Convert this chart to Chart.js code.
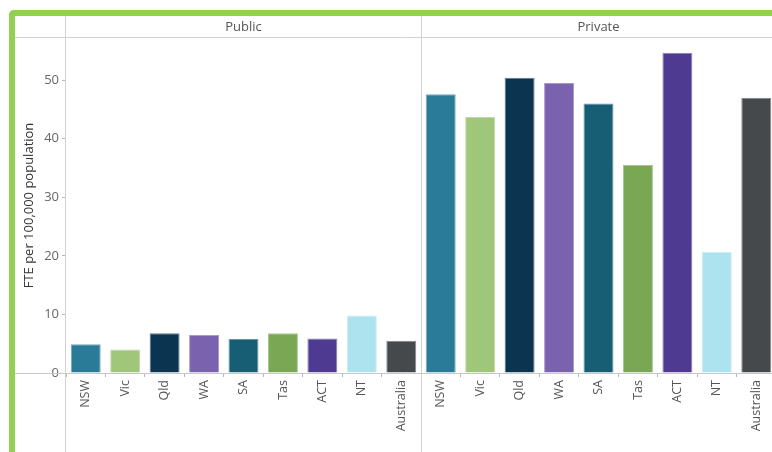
<!DOCTYPE html>
<html>
<head>
<meta charset="utf-8">
<script src="https://cdn.jsdelivr.net/npm/chart.js@4"></script>
<style>
  html, body { margin: 0; padding: 0; background: #fff; overflow: hidden; width: 772px; height: 452px; }
  #wrap { position: relative; width: 800px; height: 452px; }
  #frame { position: absolute; left: 9px; top: 10px; width: 900px; height: 600px;
           border-left: 6px solid #92d050; border-top: 6px solid #92d050;
           border-top-left-radius: 5px; box-sizing: border-box; pointer-events: none; }
  canvas { position: absolute; left: 0; top: 0; }
</style>
</head>
<body>
<div id="wrap">
  <canvas id="c" width="800" height="452"></canvas>
  <div id="frame"></div>
</div>
<script>
const categories = ["NSW", "Vic", "Qld", "WA", "SA", "Tas", "ACT", "NT", "Australia"];
const sectors = ["Public", "Private"];
const publicValues = [4.9, 4.0, 6.8, 6.5, 5.8, 6.8, 5.9, 9.8, 5.5];
const privateValues = [47.6, 43.7, 50.4, 49.5, 46.0, 35.5, 54.7, 20.7, 47.0];
const yTicks = [0, 10, 20, 30, 40, 50];
const yTitle = "FTE per 100,000 population";
const categoryColors = ["#297b97", "#a0c67a", "#0b3450", "#7a62ae", "#175d73", "#79a754", "#4f3a91", "#ade3ee", "#45494c"];

const FONT = "'Open Sans', 'Noto Sans', sans-serif";

function lighten(hex, t) {
  const n = parseInt(hex.slice(1), 16);
  const r = (n >> 16) & 255, g = (n >> 8) & 255, b = n & 255;
  const m = v => Math.round(v + (255 - v) * t);
  return `rgb(${m(r)},${m(g)},${m(b)})`;
}

const labels = categories.concat(categories);
const values = publicValues.concat(privateValues);
const bg = categoryColors.concat(categoryColors);
const bd = bg.map(c => lighten(c, 0.35));

const panelPlugin = {
  id: 'panels',
  afterDraw(chart) {
    const ctx = chart.ctx;
    const x = chart.scales.x;
    const area = chart.chartArea;
    const n = categories.length;
    const sep = (x.getPixelForTick(n - 1) + x.getPixelForTick(n)) / 2;
    const bounds = [area.left, sep, area.right];
    ctx.save();
    ctx.strokeStyle = '#d2d2d2';
    ctx.lineWidth = 1;
    ctx.beginPath();
    ctx.moveTo(15, 37.5); ctx.lineTo(chart.width, 37.5);
    ctx.stroke();
    [Math.floor(area.left) - 0.5, Math.round(sep) + 0.5].forEach(px => {
      ctx.beginPath();
      ctx.moveTo(px, 16); ctx.lineTo(px, chart.height);
      ctx.stroke();
    });
    ctx.strokeStyle = '#c8c8c8';
    ctx.beginPath();
    ctx.moveTo(15, Math.round(area.bottom) + 0.5); ctx.lineTo(chart.width, Math.round(area.bottom) + 0.5);
    ctx.stroke();
    ctx.fillStyle = '#555';
    ctx.font = "13px " + FONT;
    ctx.textAlign = 'center';
    ctx.textBaseline = 'middle';
    sectors.forEach((s, i) => {
      ctx.fillText(s, (bounds[i] + bounds[i + 1]) / 2, 27);
    });
    ctx.restore();
  }
};

new Chart(document.getElementById('c'), {
  type: 'bar',
  data: {
    labels: labels,
    datasets: [{
      data: values,
      backgroundColor: bg,
      borderColor: bd,
      borderWidth: 1,
      barPercentage: 1,
      categoryPercentage: 0.76
    }]
  },
  options: {
    responsive: false,
    animation: false,
    layout: { padding: { left: 0, right: 24, top: 38, bottom: 0 } },
    plugins: { legend: { display: false }, tooltip: { enabled: false } },
    scales: {
      x: {
        afterFit(s) { s.height = 79; },
        border: { display: false },
        grid: { offset: true, drawOnChartArea: false, drawTicks: true, tickLength: 4, color: '#b8b8b8' },
        ticks: { minRotation: 90, maxRotation: 90, autoSkip: false, padding: 3, color: '#555', font: { family: FONT, size: 12.5 } }
      },
      y: {
        min: 0,
        max: 57.2,
        afterFit(s) { s.width = 66; },
        afterBuildTicks(s) { s.ticks = yTicks.map(v => ({ value: v })); },
        border: { display: false },
        grid: { drawOnChartArea: false, drawTicks: true, tickLength: 4, color: '#b8b8b8' },
        ticks: { padding: 3, color: '#666', font: { family: FONT, size: 13 } },
        title: { display: true, text: yTitle, color: '#333', font: { family: FONT, size: 13 }, padding: { top: 21, bottom: 0 } }
      }
    }
  },
  plugins: [panelPlugin]
});
</script>
</body>
</html>
